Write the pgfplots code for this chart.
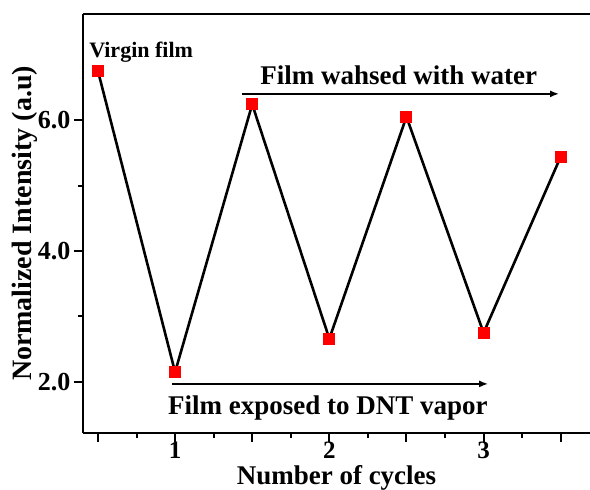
\documentclass[border=0pt]{standalone}
\usepackage{pgfplots}
\pgfplotsset{compat=1.18}
\usepackage{fontspec}
\setmainfont{Liberation Serif}
\usetikzlibrary{arrows.meta}
\begin{document}
\begin{tikzpicture}
\begin{axis}[
  scale only axis, width=507pt, height=419pt,
  xmin=0.403, xmax=3.69, ymin=1.22, ymax=7.62,
  axis x line*=bottom, axis y line*=left,
  axis line style={-, line width=2.6pt},
  tick align=outside,
  major tick length=9pt, minor tick length=5pt,
  every tick/.style={black, line width=2pt},
  xtick={0.5,1,1.5,2,2.5,3,3.5},
  xticklabels={,1,,2,,3,},
  minor x tick num=1,
  ytick={2,4,6}, yticklabels={2.0,4.0,6.0},
  minor y tick num=1,
  yticklabel style={font=\fontsize{26}{28}\selectfont\bfseries},
  xticklabel style={font=\fontsize{25}{27}\selectfont\bfseries, yshift=4pt},
  xlabel={Number of cycles}, ylabel={Normalized Intensity (a.u)},
  xlabel style={font=\fontsize{27}{29}\selectfont\bfseries, yshift=0pt},
  ylabel style={font=\fontsize{28}{30}\selectfont\bfseries, yshift=-6pt},
  clip=false,
]
\coordinate (bl) at (rel axis cs:0,0);
\coordinate (tr) at (rel axis cs:1,1);
\draw[line width=2.6pt] (rel axis cs:0,1) -- (rel axis cs:1,1);
\addplot[black, line width=2.6pt, mark=square*, mark size=5.5pt,
  mark options={fill=red, draw=red, line width=0pt}]
  coordinates {(0.5,6.75) (1,2.15) (1.5,6.24) (2,2.66) (2.5,6.05) (3,2.75) (3.5,5.44)};
\draw[line width=2.6pt, -{Latex[length=9pt,width=7pt]}] (axis cs:1.435,6.40) -- (axis cs:3.49,6.40);
\draw[line width=2.6pt, -{Latex[length=9pt,width=7pt]}] (axis cs:0.98,1.97) -- (axis cs:3.03,1.97);
\node[font=\fontsize{27}{29}\selectfont\bfseries] at (axis cs:2.45,6.69) {Film wahsed with water};
\node[font=\fontsize{27}{29}\selectfont\bfseries] at (axis cs:1.99,1.60) {Film exposed to DNT vapor};
\node[font=\fontsize{22}{24}\selectfont\bfseries] at (axis cs:0.78,7.04) {Virgin film};
\end{axis}
\pgfresetboundingbox
\path ([shift={(-83pt,-56pt)}]bl) rectangle ([shift={(0pt,14pt)}]tr);
\end{tikzpicture}
\end{document}
